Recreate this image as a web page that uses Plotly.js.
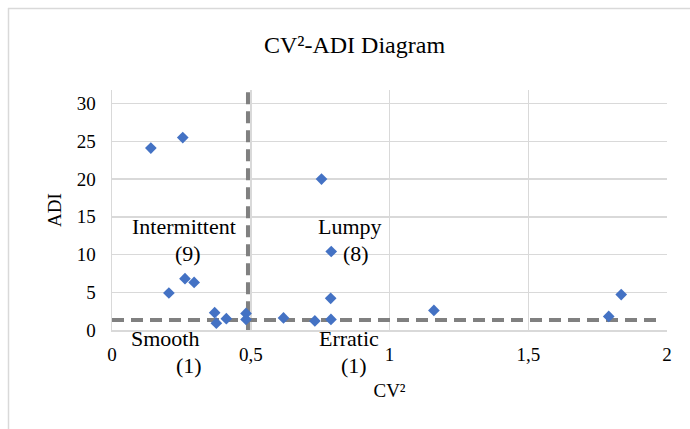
<!DOCTYPE html>
<html>
<head>
<meta charset="utf-8">
<script src="https://cdn.plot.ly/plotly-3.0.1.min.js"></script>
<style>html,body{margin:0;padding:0;background:#fff;}#chart{width:690px;height:429px;}</style>
</head>
<body>
<div id="chart"></div>
<script>
// Data
var cv2 = [0.14, 0.255, 0.755, 0.79, 0.205, 0.263, 0.296, 0.37, 0.376, 0.412, 0.483, 0.483, 0.618, 0.731, 0.788, 0.789, 1.16, 1.79, 1.835];
var adi = [24.1, 25.5, 20.0, 10.4, 4.9, 6.8, 6.3, 2.3, 0.9, 1.5, 2.2, 1.4, 1.6, 1.2, 4.2, 1.4, 2.6, 1.8, 4.7];
var cvThreshold = [0.49];
var adiThreshold = [1.32];
var quadrantNames = ['Intermittent', 'Lumpy', 'Smooth', 'Erratic'];
var quadrantCounts = [9, 8, 1, 1];
var xTicks = [0, 0.5, 1, 1.5, 2];
var yTicks = [0, 5, 10, 15, 20, 25, 30];

var yMax = 31.8;
var font = 'Liberation Serif';
var dashColor = '#808080';

var traces = [
  {
    x: [cvThreshold[0], cvThreshold[0]], y: [-0.3, yMax], mode: 'lines', type: 'scatter',
    line: {color: dashColor, width: 4, dash: '12px,7px'}, hoverinfo: 'skip', showlegend: false, cliponaxis: false
  },
  {
    x: [0, 1.985], y: [adiThreshold[0], adiThreshold[0]], mode: 'lines', type: 'scatter',
    line: {color: dashColor, width: 4, dash: '12px,7px'}, hoverinfo: 'skip', showlegend: false
  },
  {
    x: cv2, y: adi, mode: 'markers', type: 'scatter', showlegend: false,
    marker: {symbol: 'diamond', size: 9, color: '#4472C4'}, cliponaxis: false
  }
];

// quadrant label placement (label, count): x in data units, y in paper units
var labelPos = [
  {nx: 0.259, ny: 13.66, cx: 0.273, cy: 10.2},
  {nx: 0.856, ny: 13.66, cx: 0.878, cy: 10.2},
  {nx: 0.19, ny: -1.06, cx: 0.277, cy: -4.64},
  {nx: 0.853, ny: -1.06, cx: 0.871, cy: -4.64}
];
var annotations = [];
quadrantNames.forEach(function (n, i) {
  var p = labelPos[i];
  annotations.push({x: p.nx, y: p.ny / yMax, xref: 'x', yref: 'paper', text: n, showarrow: false,
    font: {family: font, size: 22, color: '#000'}, xanchor: 'center', yanchor: 'middle'});
  annotations.push({x: p.cx, y: p.cy / yMax, xref: 'x', yref: 'paper', text: '(' + quadrantCounts[i] + ')', showarrow: false,
    font: {family: font, size: 22, color: '#000'}, xanchor: 'center', yanchor: 'middle'});
});

var L = 112, R = 23, T = 90, B = 99, W = 690, H = 429;
var pw = W - L - R, ph = H - T - B;
function px2x(p) { return (p - L) / pw; }
function py2y(p) { return (H - B - p) / ph; }

var layout = {
  width: W, height: H,
  margin: {l: L, r: R, t: T, b: B, pad: 0},
  paper_bgcolor: '#fff', plot_bgcolor: '#fff',
  separators: ',.',
  font: {family: font, color: '#000'},
  title: {text: 'CV²-ADI Diagram', font: {family: font, size: 24, color: '#000'},
    xref: 'container', yref: 'container', x: 354.5 / W, y: 1 - 45 / H, xanchor: 'center', yanchor: 'middle'},
  xaxis: {
    range: [0, 2], tickvals: xTicks, ticktext: xTicks.map(function (v) { return String(v).replace('.', ','); }),
    showgrid: true, gridcolor: '#d9d9d9', gridwidth: 1.5,
    showline: true, linecolor: '#d9d9d9', linewidth: 1.5,
    zeroline: false, ticks: '', ticklabelstandoff: 7,
    tickfont: {family: font, size: 19, color: '#000'},
    title: {text: 'CV²', font: {family: font, size: 19, color: '#000'}, standoff: 19},
    automargin: false, fixedrange: true
  },
  yaxis: {
    range: [0, yMax], tickvals: yTicks,
    showgrid: true, gridcolor: '#d9d9d9', gridwidth: 1.5,
    showline: true, linecolor: '#d9d9d9', linewidth: 1.5,
    zeroline: false, ticks: '', ticklabelstandoff: 11,
    tickfont: {family: font, size: 19, color: '#000'},
    title: {text: 'ADI', font: {family: font, size: 19, color: '#000'}, standoff: 10},
    automargin: false, fixedrange: true
  },
  annotations: annotations,
  shapes: [
    {type: 'line', xref: 'paper', yref: 'paper', x0: px2x(8), x1: px2x(700), y0: py2y(8.5), y1: py2y(8.5),
      line: {color: '#d9d9d9', width: 1.5}},
    {type: 'line', xref: 'paper', yref: 'paper', x0: px2x(8.5), x1: px2x(8.5), y0: py2y(8), y1: py2y(440),
      line: {color: '#d9d9d9', width: 1.5}}
  ]
};

Plotly.newPlot('chart', traces, layout, {displayModeBar: false, staticPlot: true});
</script>
</body>
</html>
